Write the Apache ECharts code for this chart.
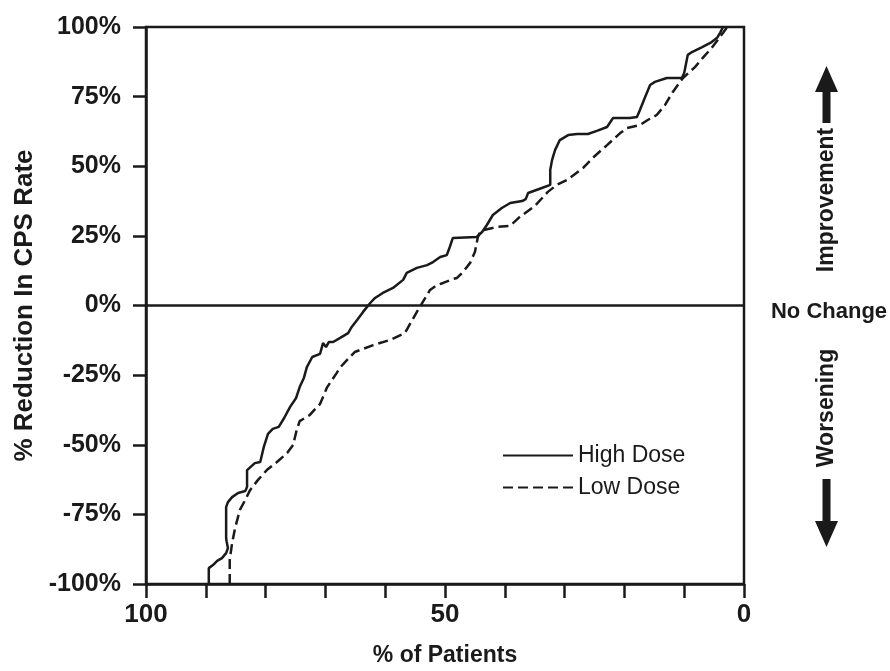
<!DOCTYPE html>
<html>
<head>
<meta charset="utf-8">
<script src="https://cdn.jsdelivr.net/npm/echarts@6/dist/echarts.min.js"></script>
<style>html,body{margin:0;padding:0;background:#fff}#c{width:890px;height:671px}</style>
</head>
<body>
<div id="c"></div>
<script>
// % of patients (x) vs % reduction in CPS rate (y)
const highDose = [[89.5,-100],[89.5,-94.3],[88.8,-93.2],[88.1,-91.7],[87.3,-90.7],[86.6,-88.9],[86.3,-87.1],[86.5,-84.9],[86.6,-83.5],[86.6,-72.4],[86.3,-70.6],[85.6,-68.8],[84.6,-67.3],[83.4,-66.6],[83.1,-65.2],[83.1,-59.1],[81.8,-56.6],[80.9,-56.2],[80.3,-50.8],[79.6,-46.1],[78.8,-44.3],[77.8,-43.6],[76.9,-40.4],[75.9,-36.4],[74.9,-33.2],[74.3,-29.3],[73.6,-26.0],[73.1,-22.1],[72.2,-18.5],[70.9,-17.4],[70.4,-13.5],[69.9,-14.9],[69.4,-13.1],[68.7,-13.1],[67.6,-11.7],[66.2,-9.9],[65.6,-7.7],[64.7,-5.2],[63.7,-2.3],[62.5,0.9],[61.7,2.7],[60.4,4.5],[58.7,6.3],[57.0,9.2],[56.4,11.7],[54.7,13.5],[53.0,14.5],[52.0,15.6],[50.8,17.4],[49.7,18.1],[49.2,21.0],[48.7,24.2],[44.7,24.6],[43.8,26.4],[43.0,28.9],[42.0,32.5],[40.5,35.0],[39.1,36.8],[37.1,37.5],[36.5,38.2],[36.1,40.4],[35.8,41.1],[33.8,42.2],[32.4,43.3],[32.4,48.7],[32.1,52.2],[31.6,55.8],[30.8,59.4],[29.4,61.2],[27.9,61.6],[26.1,61.6],[24.6,62.7],[22.9,64.1],[21.9,67.3],[19.1,67.3],[17.9,67.7],[17.4,70.2],[16.6,74.5],[15.7,79.2],[14.9,80.3],[12.9,81.7],[10.4,81.7],[10.0,83.5],[9.4,90.0],[8.7,91.0],[7.0,92.8],[5.4,94.6],[4.5,96.1],[4.0,97.9],[3.5,100]];
const lowDose = [[86.0,-100],[86.0,-91.4],[85.6,-85.3],[85.1,-79.9],[84.3,-73.4],[83.4,-69.8],[82.6,-66.3],[81.3,-62.7],[79.8,-59.1],[78.1,-56.2],[76.4,-53.0],[75.4,-50.1],[74.8,-44.7],[74.3,-41.5],[72.6,-39.3],[71.4,-36.4],[70.9,-35.4],[69.7,-29.3],[68.1,-24.2],[67.6,-22.4],[66.4,-19.6],[65.1,-16.7],[62.0,-14.2],[59.2,-12.4],[56.7,-9.9],[54.7,-2.3],[53.7,1.3],[52.5,5.6],[51.3,7.4],[50.3,8.1],[48.7,9.5],[48.0,9.9],[47.0,12.0],[45.8,15.3],[45.0,19.2],[44.5,24.6],[44.2,26.0],[43.5,27.1],[41.3,28.2],[39.1,28.6],[37.5,31.8],[35.0,35.7],[32.8,40.8],[31.3,43.3],[29.6,45.1],[26.9,49.4],[25.3,53.0],[22.9,57.6],[20.7,61.9],[19.6,63.7],[17.4,64.8],[16.1,66.6],[14.6,68.4],[13.2,72.0],[11.9,76.7],[10.2,81.7],[8.2,85.6],[6.9,88.9],[5.4,92.5],[4.4,95.3],[3.5,97.9],[2.8,100]];
const seriesNames = ['High Dose', 'Low Dose'];
const xLabeled = [100, 50, 0];

const FONT = "'Liberation Sans', Arial, sans-serif";
const INK = '#1a1a1a';
const chart = echarts.init(document.getElementById('c'));
chart.setOption({
  animation: false,
  backgroundColor: '#fff',
  grid: { left: 146, right: 146, top: 27, bottom: 87, containLabel: false, outerBoundsMode: 'none',
    show: true, borderColor: INK, borderWidth: 2.5, backgroundColor: 'transparent' },
  legend: {
    orient: 'vertical', left: 497, top: 437, itemWidth: 70, itemHeight: 14, itemGap: 5,
    data: seriesNames,
    itemStyle: { opacity: 0 },
    textStyle: { fontFamily: FONT, fontSize: 23, color: INK, lineHeight: 27 }
  },
  xAxis: {
    type: 'value', min: 0, max: 100, interval: 10, inverse: true,
    name: '% of Patients', nameLocation: 'middle', nameGap: 60,
    nameTextStyle: { fontFamily: FONT, fontSize: 23, fontWeight: 'bold', color: INK },
    axisLine: { show: true, onZero: false, lineStyle: { color: INK, width: 2.5 } },
    axisTick: { show: true, length: 14, lineStyle: { color: INK, width: 2.5 } },
    axisLabel: { margin: 18, fontFamily: FONT, fontSize: 26, fontWeight: 'bold', color: INK,
      formatter: v => xLabeled.indexOf(v) >= 0 ? String(v) : '' },
    splitLine: { show: false }
  },
  yAxis: {
    type: 'value', min: -100, max: 100, interval: 25,
    name: '% Reduction In CPS Rate', nameLocation: 'middle', nameGap: 108, nameRotate: 90,
    nameTextStyle: { fontFamily: FONT, fontSize: 26, fontWeight: 'bold', color: INK },
    axisLine: { show: true, onZero: false, lineStyle: { color: INK, width: 2.5 } },
    axisTick: { show: true, length: 13, lineStyle: { color: INK, width: 2.5 } },
    axisLabel: { margin: 25, fontFamily: FONT, fontSize: 25, fontWeight: 'bold', color: INK, formatter: v => v + '%' },
    splitLine: { show: false }
  },
  series: [
    { name: seriesNames[0], type: 'line', data: highDose, symbol: 'none', color: INK,
      lineStyle: { color: INK, width: 2.5, type: 'solid' },
      markLine: { silent: true, symbol: 'none', label: { show: false },
        lineStyle: { color: INK, width: 2.5, type: 'solid' }, data: [{ yAxis: 0 }] } },
    { name: seriesNames[1], type: 'line', data: lowDose, symbol: 'none', color: INK,
      lineStyle: { color: INK, width: 2.5, type: [10, 5] } }
  ],
  graphic: [
    { type: 'text', x: 827, y: 200, rotation: Math.PI / 2,
      style: { text: 'Improvement', fill: INK, font: "bold 23px " + FONT, align: 'center', verticalAlign: 'middle' } },
    { type: 'text', x: 829, y: 312,
      style: { text: 'No Change', fill: INK, font: "bold 22px " + FONT, align: 'center', verticalAlign: 'middle' } },
    { type: 'text', x: 827, y: 408, rotation: Math.PI / 2,
      style: { text: 'Worsening', fill: INK, font: "bold 23px " + FONT, align: 'center', verticalAlign: 'middle' } },
    { type: 'polygon', shape: { points: [[826.5,66],[838,92],[830.5,92],[830.5,123],[822.5,123],[822.5,92],[815,92]] }, style: { fill: INK } },
    { type: 'polygon', shape: { points: [[826.5,547],[838,521],[830.5,521],[830.5,479],[822.5,479],[822.5,521],[815,521]] }, style: { fill: INK } }
  ]
});
</script>
</body>
</html>
